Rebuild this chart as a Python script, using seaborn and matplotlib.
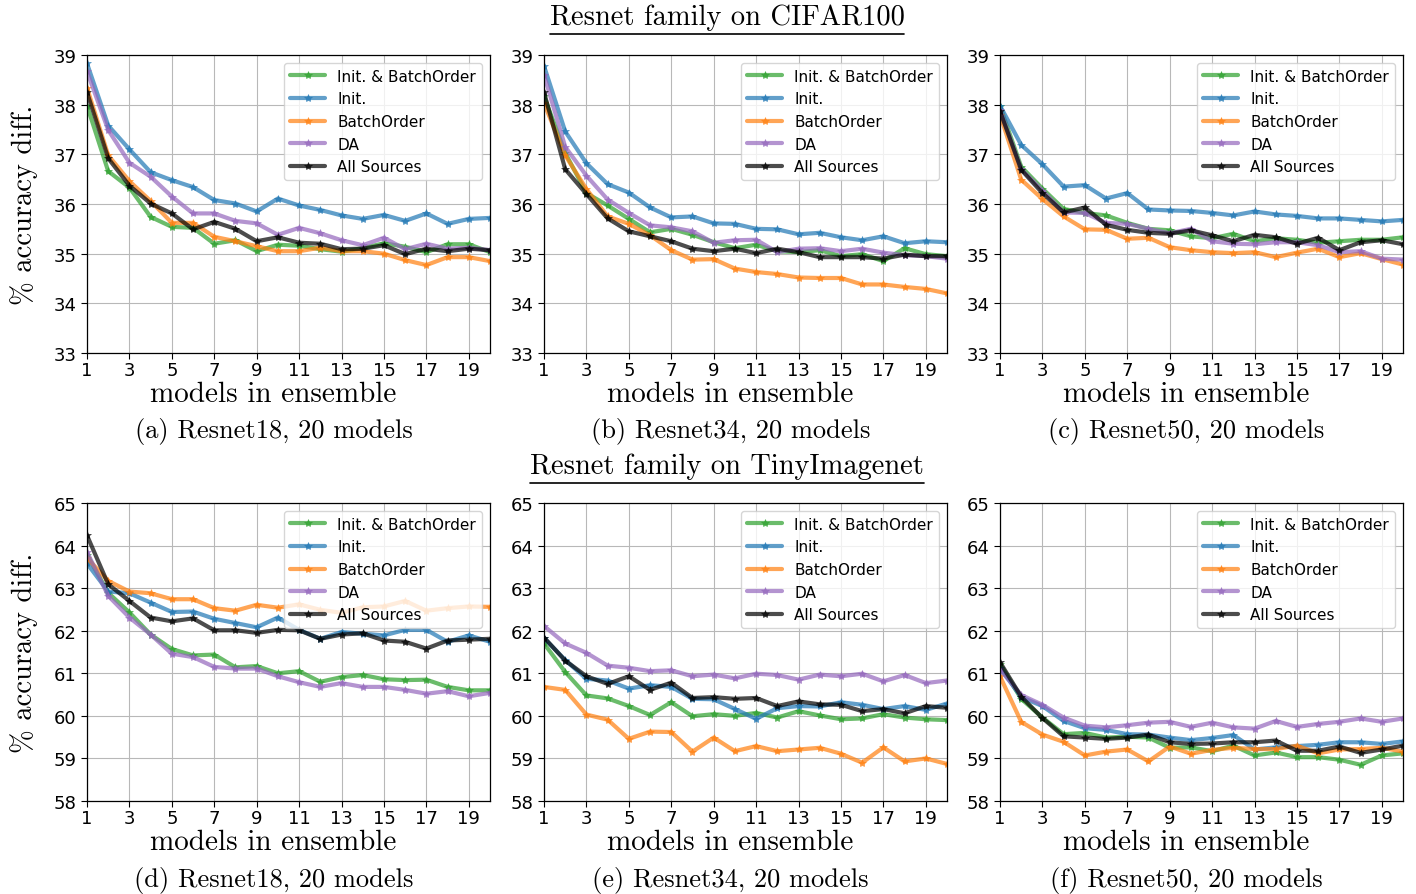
import numpy as np
import pandas as pd
import matplotlib
matplotlib.use("Agg")
import matplotlib.pyplot as plt
import seaborn as sns
from matplotlib.lines import Line2D

# ---------------- data ----------------
models = list(range(1, 21))
series_names = ["Init. & BatchOrder", "Init.", "BatchOrder", "DA", "All Sources"]
series_colors = ["tab:green", "tab:blue", "tab:orange", "tab:purple", "black"]

# (a) Resnet18 CIFAR100
r18c_initbo = [37.98, 36.66, 36.33, 35.74, 35.54, 35.52, 35.20, 35.27, 35.05, 35.18, 35.16, 35.09, 35.04, 35.11, 35.21, 35.14, 35.03, 35.19, 35.19, 35.03]
r18c_init   = [38.83, 37.58, 37.10, 36.64, 36.48, 36.34, 36.08, 36.01, 35.85, 36.11, 35.97, 35.88, 35.77, 35.70, 35.78, 35.66, 35.81, 35.60, 35.70, 35.72]
r18c_bo     = [38.34, 36.98, 36.46, 36.06, 35.62, 35.62, 35.34, 35.25, 35.15, 35.05, 35.05, 35.12, 35.05, 35.05, 35.00, 34.87, 34.77, 34.93, 34.93, 34.85]
r18c_da     = [38.67, 37.49, 36.83, 36.55, 36.15, 35.81, 35.81, 35.66, 35.61, 35.38, 35.52, 35.41, 35.27, 35.17, 35.32, 35.09, 35.20, 35.10, 35.12, 35.07]
r18c_all    = [38.25, 36.92, 36.37, 36.01, 35.81, 35.49, 35.64, 35.50, 35.25, 35.33, 35.22, 35.20, 35.09, 35.10, 35.17, 34.99, 35.10, 35.05, 35.10, 35.07]

# (b) Resnet34 CIFAR100
r34c_initbo = [38.17, 37.03, 36.22, 35.97, 35.70, 35.43, 35.50, 35.38, 35.23, 35.11, 35.18, 35.05, 35.03, 35.07, 34.95, 34.99, 34.85, 35.11, 34.99, 34.95]
r34c_init   = [38.78, 37.46, 36.82, 36.40, 36.23, 35.93, 35.73, 35.75, 35.61, 35.60, 35.50, 35.49, 35.39, 35.42, 35.33, 35.27, 35.35, 35.21, 35.25, 35.23]
r34c_bo     = [38.03, 36.98, 36.30, 35.75, 35.60, 35.37, 35.07, 34.88, 34.89, 34.70, 34.63, 34.59, 34.52, 34.51, 34.51, 34.38, 34.38, 34.33, 34.29, 34.20]
r34c_da     = [38.60, 37.15, 36.57, 36.09, 35.82, 35.57, 35.53, 35.45, 35.22, 35.27, 35.28, 35.03, 35.10, 35.11, 35.05, 35.10, 35.02, 34.97, 34.95, 34.90]
r34c_all    = [38.25, 36.70, 36.20, 35.71, 35.45, 35.35, 35.25, 35.10, 35.05, 35.10, 35.01, 35.10, 35.03, 34.93, 34.93, 34.93, 34.90, 34.98, 34.95, 34.95]

# (c) Resnet50 CIFAR100
r50c_initbo = [37.97, 36.75, 36.31, 35.90, 35.82, 35.77, 35.62, 35.50, 35.47, 35.35, 35.31, 35.40, 35.25, 35.31, 35.28, 35.22, 35.25, 35.28, 35.28, 35.33]
r50c_init   = [37.98, 37.19, 36.80, 36.35, 36.38, 36.11, 36.22, 35.89, 35.87, 35.86, 35.82, 35.77, 35.85, 35.79, 35.76, 35.71, 35.71, 35.68, 35.65, 35.68]
r50c_bo     = [37.80, 36.49, 36.10, 35.75, 35.49, 35.48, 35.30, 35.32, 35.13, 35.07, 35.03, 35.01, 35.03, 34.93, 35.02, 35.10, 34.93, 35.01, 34.89, 34.78]
r50c_da     = [37.90, 36.70, 36.27, 35.83, 35.82, 35.62, 35.60, 35.50, 35.41, 35.50, 35.25, 35.20, 35.19, 35.23, 35.23, 35.17, 35.03, 35.05, 34.90, 34.88]
r50c_all    = [37.87, 36.69, 36.22, 35.83, 35.93, 35.58, 35.48, 35.42, 35.40, 35.47, 35.37, 35.25, 35.38, 35.33, 35.20, 35.32, 35.07, 35.23, 35.27, 35.19]

# (d) Resnet18 TinyImagenet
r18t_initbo = [63.79, 62.89, 62.43, 61.91, 61.57, 61.42, 61.44, 61.14, 61.17, 61.00, 61.05, 60.80, 60.91, 60.96, 60.86, 60.84, 60.85, 60.68, 60.60, 60.60]
r18t_init   = [63.58, 62.92, 62.88, 62.66, 62.44, 62.45, 62.28, 62.18, 62.08, 62.31, 62.02, 61.81, 61.97, 61.93, 61.89, 62.02, 62.02, 61.74, 61.89, 61.74]
r18t_bo     = [63.71, 63.17, 62.92, 62.88, 62.74, 62.74, 62.53, 62.47, 62.61, 62.54, 62.62, 62.49, 62.42, 62.55, 62.57, 62.70, 62.47, 62.53, 62.57, 62.56]
r18t_da     = [63.85, 62.82, 62.31, 61.91, 61.46, 61.38, 61.15, 61.11, 61.11, 60.93, 60.79, 60.68, 60.77, 60.68, 60.68, 60.61, 60.52, 60.58, 60.46, 60.54]
r18t_all    = [64.24, 63.09, 62.70, 62.31, 62.22, 62.29, 62.01, 62.01, 61.95, 62.02, 62.01, 61.81, 61.91, 61.94, 61.77, 61.74, 61.58, 61.77, 61.79, 61.81]

# (e) Resnet34 TinyImagenet
r34t_initbo = [61.70, 61.03, 60.48, 60.41, 60.23, 60.02, 60.32, 59.99, 60.04, 60.00, 60.07, 59.96, 60.11, 60.01, 59.92, 59.94, 60.04, 59.96, 59.92, 59.90]
r34t_init   = [61.83, 61.31, 60.87, 60.83, 60.64, 60.72, 60.68, 60.40, 60.39, 60.16, 59.93, 60.18, 60.23, 60.22, 60.32, 60.26, 60.16, 60.23, 60.14, 60.29]
r34t_bo     = [60.68, 60.61, 60.03, 59.91, 59.46, 59.63, 59.62, 59.16, 59.49, 59.17, 59.29, 59.17, 59.21, 59.25, 59.11, 58.90, 59.26, 58.93, 59.00, 58.87]
r34t_da     = [62.11, 61.70, 61.48, 61.18, 61.13, 61.05, 61.07, 60.93, 60.97, 60.88, 60.99, 60.96, 60.85, 60.97, 60.93, 60.99, 60.81, 60.96, 60.77, 60.83]
r34t_all    = [61.84, 61.30, 60.93, 60.75, 60.93, 60.61, 60.78, 60.42, 60.44, 60.40, 60.42, 60.23, 60.34, 60.27, 60.26, 60.11, 60.16, 60.06, 60.23, 60.19]

# (f) Resnet50 TinyImagenet
r50t_initbo = [61.22, 60.40, 59.96, 59.57, 59.60, 59.49, 59.51, 59.49, 59.25, 59.26, 59.17, 59.30, 59.07, 59.14, 59.03, 59.03, 58.97, 58.85, 59.07, 59.12]
r50t_init   = [61.13, 60.44, 60.23, 59.88, 59.71, 59.67, 59.57, 59.56, 59.49, 59.43, 59.48, 59.55, 59.21, 59.26, 59.29, 59.32, 59.38, 59.38, 59.34, 59.40]
r50t_bo     = [60.93, 59.86, 59.56, 59.39, 59.07, 59.16, 59.21, 58.93, 59.28, 59.11, 59.20, 59.25, 59.22, 59.22, 59.30, 59.12, 59.21, 59.22, 59.25, 59.16]
r50t_da     = [61.09, 60.49, 60.26, 59.96, 59.77, 59.73, 59.78, 59.84, 59.86, 59.74, 59.84, 59.73, 59.70, 59.88, 59.74, 59.81, 59.86, 59.94, 59.86, 59.94]
r50t_all    = [61.26, 60.45, 59.95, 59.52, 59.49, 59.46, 59.49, 59.56, 59.38, 59.34, 59.35, 59.38, 59.38, 59.42, 59.18, 59.18, 59.28, 59.13, 59.21, 59.30]

panel_data = [
    [r18c_initbo, r18c_init, r18c_bo, r18c_da, r18c_all],
    [r34c_initbo, r34c_init, r34c_bo, r34c_da, r34c_all],
    [r50c_initbo, r50c_init, r50c_bo, r50c_da, r50c_all],
    [r18t_initbo, r18t_init, r18t_bo, r18t_da, r18t_all],
    [r34t_initbo, r34t_init, r34t_bo, r34t_da, r34t_all],
    [r50t_initbo, r50t_init, r50t_bo, r50t_da, r50t_all],
]
captions = ["(a) Resnet18, 20 models", "(b) Resnet34, 20 models", "(c) Resnet50, 20 models",
            "(d) Resnet18, 20 models", "(e) Resnet34, 20 models", "(f) Resnet50, 20 models"]
row_titles = ["Resnet family on CIFAR100", "Resnet family on TinyImagenet"]
row_ylims = [(33, 39), (58, 65)]
xticks = list(range(1, 20, 2))

# ---------------- figure ----------------
sns.set_style("ticks")
plt.rcParams["font.family"] = ["DejaVu Sans"]
plt.rcParams.update({"text.color": "black", "axes.labelcolor": "black",
                     "xtick.color": "black", "ytick.color": "black"})
W, H = 1416, 895
fig = plt.figure(figsize=(W / 100, H / 100), dpi=100)
CM = "cmr10"

col_left = [87, 544, 1000]
row_top = [56, 504]
ax_w, ax_h = 403, 298
label_shift = 15  # px, labels/captions centred slightly left of the axes centre

axes = []
for i in range(6):
    r, c = divmod(i, 3)
    l = col_left[c]
    t = row_top[r]
    ax = fig.add_axes([l / W, 1 - (t + ax_h) / H, ax_w / W, ax_h / H])
    axes.append(ax)
    for name, color, vals in zip(series_names, series_colors, panel_data[i]):
        df = pd.DataFrame({"models": models, "acc": vals})
        sns.lineplot(data=df, x="models", y="acc", ax=ax, color=color, label=name,
                     linewidth=3, alpha=0.7, marker="*", markersize=6,
                     markeredgecolor=color, markeredgewidth=0.5)
    ax.set_xlim(1, 20)
    ax.set_ylim(*row_ylims[r])
    ax.set_xticks(xticks)
    ax.set_yticks(range(row_ylims[r][0], row_ylims[r][1] + 1))
    ax.tick_params(labelsize=13, length=4, width=0.8, color="black", labelcolor="black")
    ax.tick_params(axis="x", pad=2)
    ax.grid(True, color="#b8b8b8", linewidth=0.8)
    for s in ax.spines.values():
        s.set_visible(True)
        s.set_color("black")
        s.set_linewidth(0.9)
    ax.set_xlabel("models in ensemble", fontfamily=CM, fontsize=21, color="black")
    ax.xaxis.set_label_coords(0.5 - label_shift / ax_w, -0.093)
    if c == 0:
        ax.set_ylabel("% accuracy diff.", fontfamily=CM, fontsize=20.5, labelpad=11, color="black")
    else:
        ax.set_ylabel("")
    leg = ax.legend(loc="upper right", fontsize=11, framealpha=0.8, handlelength=2.3)
    for txt in leg.get_texts():
        txt.set_color("black")
    cap_y = [432, 881][r]
    fig.text((l + ax_w / 2 - label_shift) / W, 1 - cap_y / H, captions[i], fontfamily=CM,
             fontsize=19, ha="center", va="center", color="black")

title_y = [18, 467]
title_texts = []
for r in range(2):
    t = fig.text(727 / W, 1 - title_y[r] / H, row_titles[r], fontfamily=CM,
                 fontsize=20.5, ha="center", va="center", color="black")
    title_texts.append(t)

fig.canvas.draw()
renderer = fig.canvas.get_renderer()
for t in title_texts:
    bb = t.get_window_extent(renderer)
    yline = bb.y0 - 4
    ln = Line2D([bb.x0 / W, bb.x1 / W], [yline / H, yline / H], transform=fig.transFigure,
                color="black", linewidth=1.2)
    fig.add_artist(ln)

fig.savefig("out.png", dpi=100)
